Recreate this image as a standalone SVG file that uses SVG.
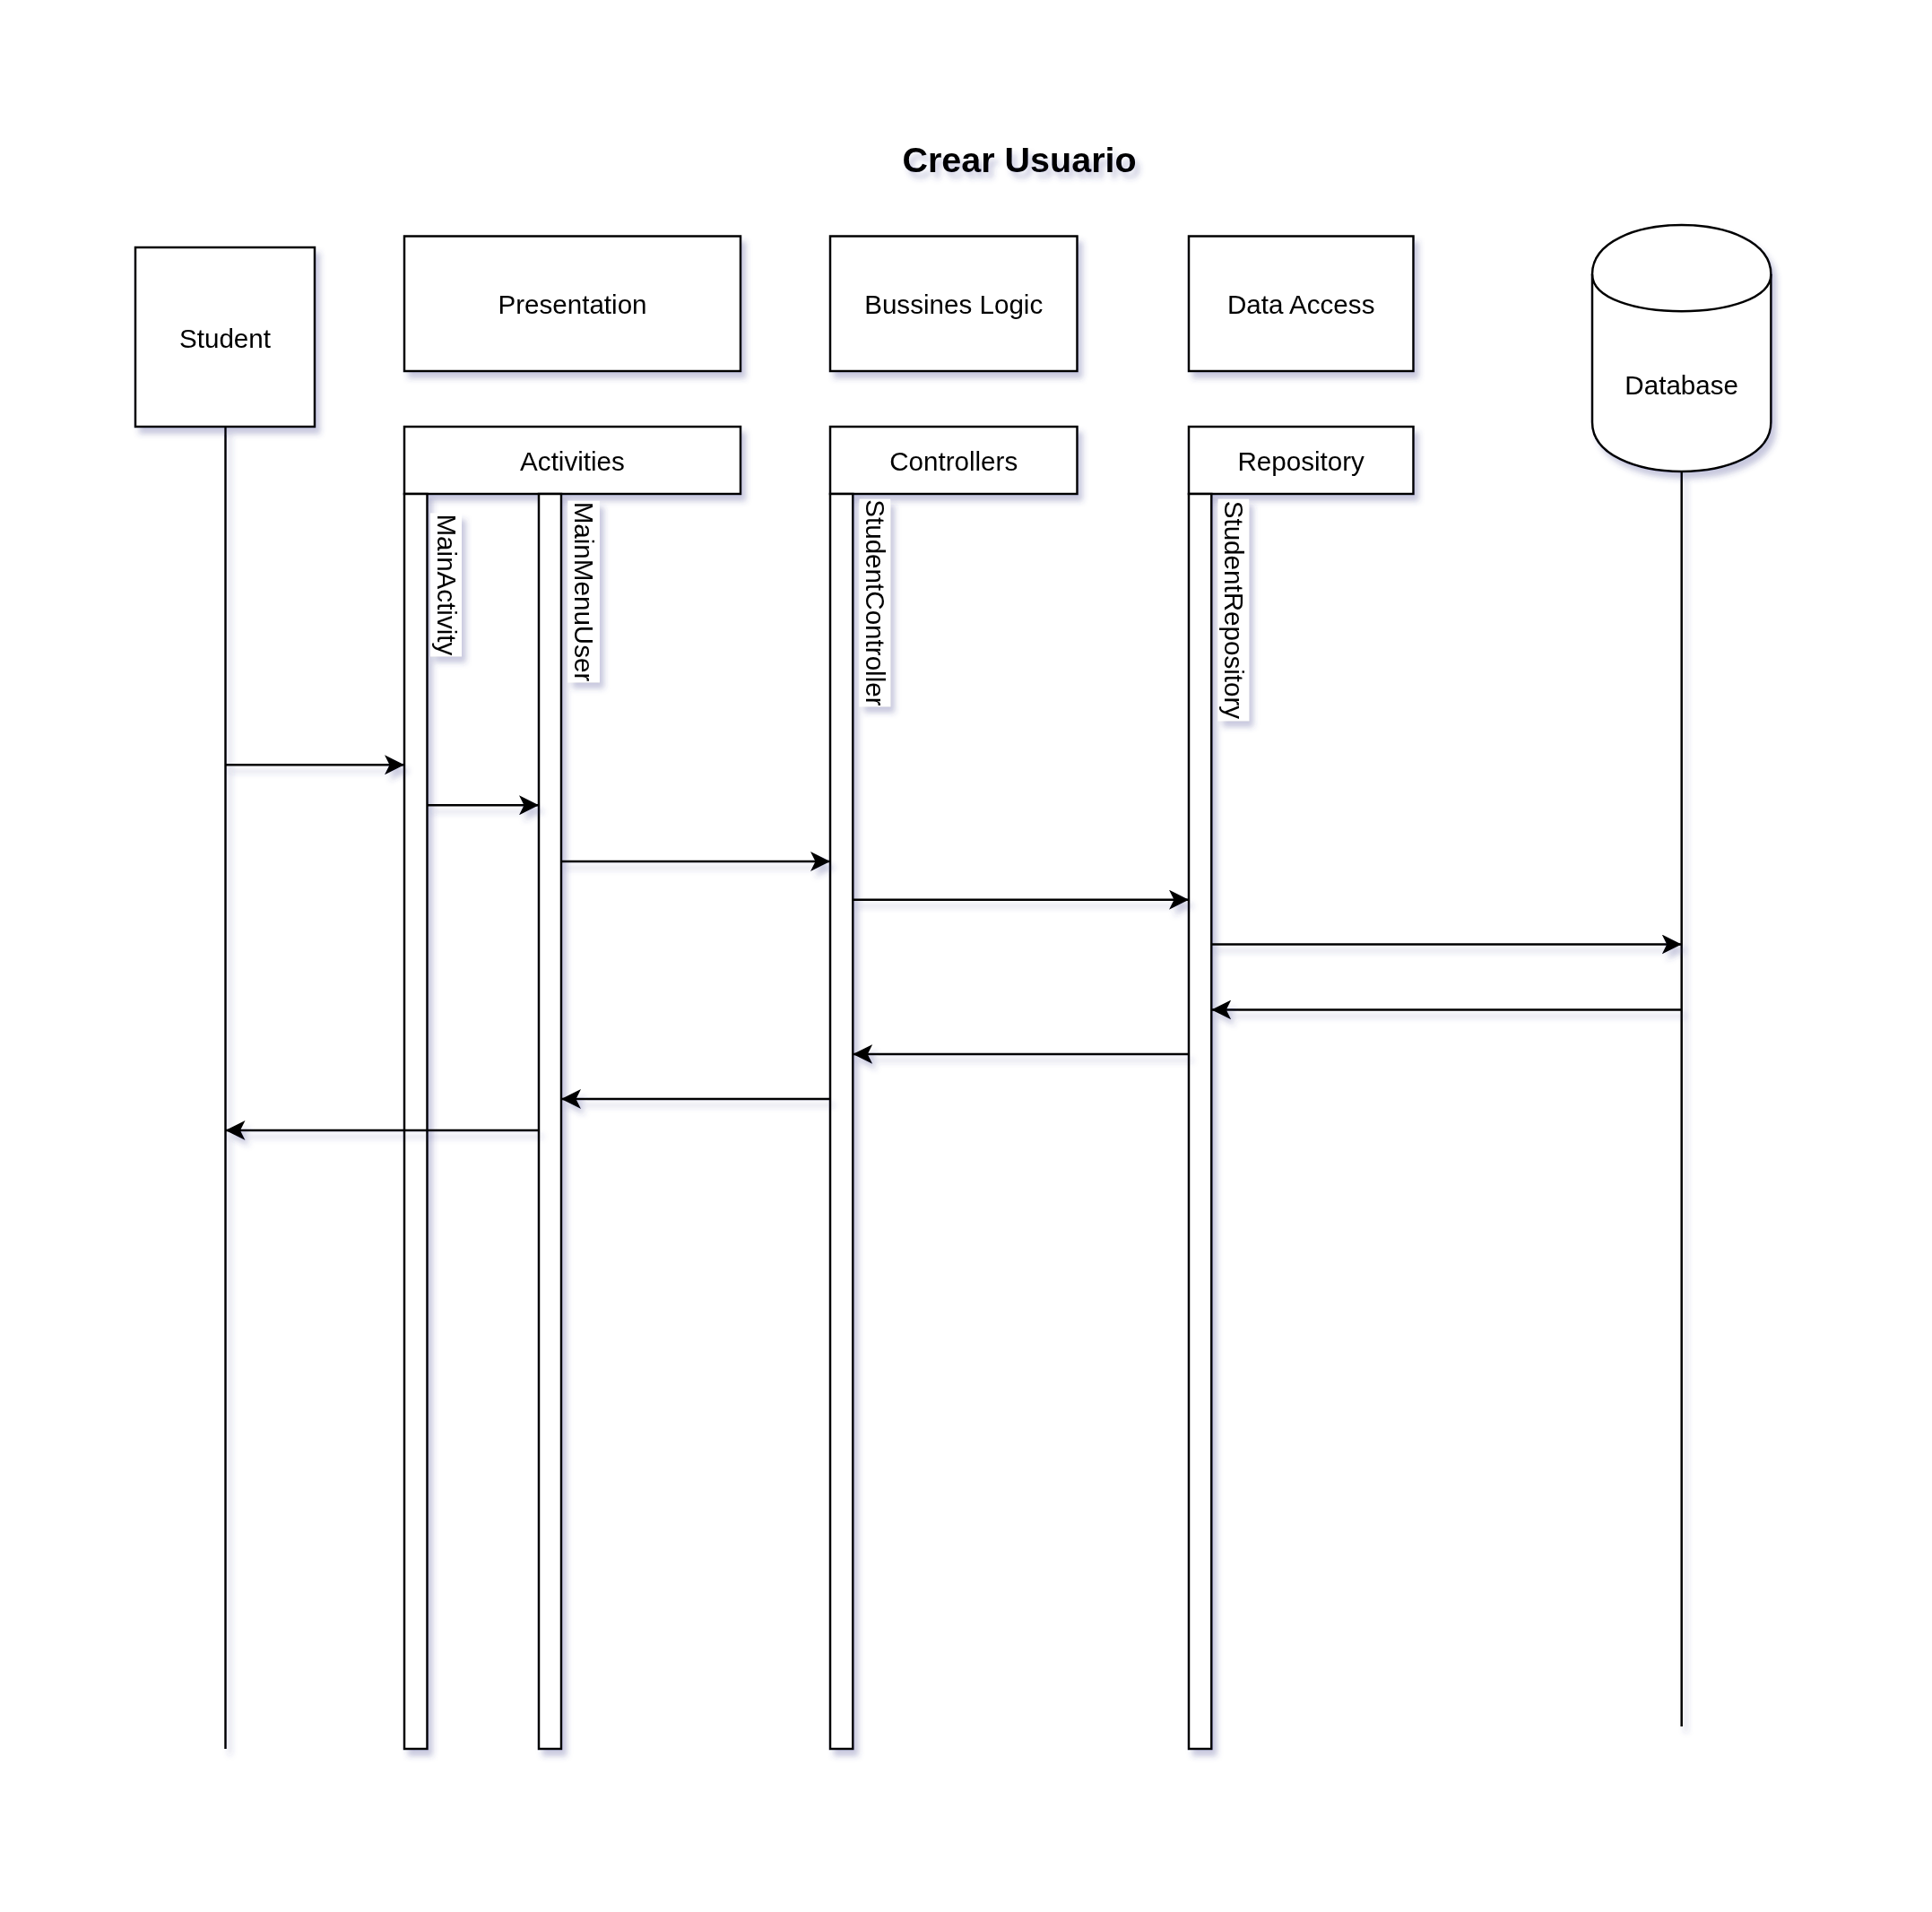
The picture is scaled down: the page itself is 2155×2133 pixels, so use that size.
<svg xmlns="http://www.w3.org/2000/svg" width="2155" height="2133" viewBox="0 0 2155 2133">
<defs>
<filter id="sh" x="-20%" y="-20%" width="140%" height="140%" filterUnits="objectBoundingBox">
<feGaussianBlur in="SourceAlpha" stdDeviation="3"/>
<feOffset dx="5" dy="7" result="b"/>
<feFlood flood-color="#3c3f8a" flood-opacity="0.28"/>
<feComposite in2="b" operator="in" result="s"/>
<feMerge><feMergeNode in="s"/><feMergeNode in="SourceGraphic"/></feMerge>
</filter>
<filter id="shl" x="-10" y="-10" width="2200" height="2200" filterUnits="userSpaceOnUse">
<feGaussianBlur in="SourceAlpha" stdDeviation="3"/>
<feOffset dx="5" dy="7" result="b"/>
<feFlood flood-color="#3c3f8a" flood-opacity="0.28"/>
<feComposite in2="b" operator="in" result="s"/>
<feMerge><feMergeNode in="s"/><feMergeNode in="SourceGraphic"/></feMerge>
</filter>
<marker id="arr" viewBox="0 0 22 22" refX="22" refY="11" markerWidth="22" markerHeight="22" markerUnits="userSpaceOnUse" orient="auto">
<path d="M22,11 L0,0 L5.5,11 L0,22 Z" fill="#000"/>
</marker>
</defs>
<style>
.box{fill:#fff;stroke:#000;stroke-width:2.47}
.life{fill:none;stroke:#000;stroke-width:2.47}
.lbl{font-family:"Liberation Sans",Arial,sans-serif;font-size:29.6px;fill:#000;text-anchor:middle}
.vbg{fill:#fff;stroke:none}
.msg{fill:none;stroke:#000;stroke-width:2.47;marker-end:url(#arr)}
.title{font-family:"Liberation Sans",Arial,sans-serif;font-size:39.5px;font-weight:bold;fill:#000;text-anchor:middle}
</style>
<rect width="2155" height="2133" fill="#fff"/>

<g id="title" filter="url(#shl)">
<text class="title" x="1137" y="192">Crear Usuario</text>
</g>

<g id="student" filter="url(#shl)">
<line class="life" x1="251.5" y1="476" x2="251.5" y2="1951"/>
<rect class="box" x="151" y="276" width="200" height="200"/>
<text class="lbl" x="251" y="388">Student</text>
</g>

<g id="presentation" filter="url(#shl)">
<rect class="box" x="451" y="263.5" width="375" height="150.5"/>
<text class="lbl" x="638.5" y="350">Presentation</text>
</g>

<g id="activities" filter="url(#shl)">
<rect class="box" x="451" y="476" width="375" height="75"/>
<text class="lbl" x="638.5" y="525">Activities</text>
</g>

<g id="mainActivity" filter="url(#shl)">
<rect class="box" x="451" y="551" width="25.5" height="1400"/>
<rect class="vbg" x="480" y="572.7" width="35" height="159.5"/>
<text class="lbl" transform="translate(487.5,652.4) rotate(90)">MainActivity</text>
</g>

<g id="mainMenuUser" filter="url(#shl)">
<rect class="box" x="601" y="551" width="25" height="1400"/>
<rect class="vbg" x="633.4" y="558.7" width="35.5" height="202.5"/>
<text class="lbl" transform="translate(640.7,660) rotate(90)">MainMenuUser</text>
</g>

<g id="bussinesLogic" filter="url(#shl)">
<rect class="box" x="926" y="263.5" width="275.5" height="150.5"/>
<text class="lbl" x="1063.7" y="350">Bussines Logic</text>
</g>

<g id="controllers" filter="url(#shl)">
<rect class="box" x="926" y="476" width="275.5" height="75"/>
<text class="lbl" x="1063.7" y="525">Controllers</text>
</g>

<g id="studentController" filter="url(#shl)">
<rect class="box" x="926" y="551" width="25.3" height="1400"/>
<rect class="vbg" x="958.7" y="556.7" width="34.5" height="231.5"/>
<text class="lbl" transform="translate(966,672.4) rotate(90)">StudentController</text>
</g>

<g id="dataAccess" filter="url(#shl)">
<rect class="box" x="1326" y="263.5" width="250.5" height="150.5"/>
<text class="lbl" x="1451.2" y="350">Data Access</text>
</g>

<g id="repository" filter="url(#shl)">
<rect class="box" x="1326" y="476" width="250.5" height="75"/>
<text class="lbl" x="1451.2" y="525">Repository</text>
</g>

<g id="studentRepository" filter="url(#shl)">
<rect class="box" x="1326" y="551" width="25.3" height="1400"/>
<rect class="vbg" x="1358.7" y="556.7" width="34.5" height="247.5"/>
<text class="lbl" transform="translate(1366,680.4) rotate(90)">StudentRepository</text>
</g>

<g id="database" filter="url(#shl)">
<line class="life" x1="1875.7" y1="526" x2="1875.7" y2="1926"/>
<path class="box" d="M1776,306 C1776,232.7 1975.4,232.7 1975.4,306 L1975.4,471 C1975.4,544.3 1776,544.3 1776,471 Z"/>
<path class="life" d="M1776,306 C1776,361 1975.4,361 1975.4,306"/>
<text class="lbl" x="1875.7" y="440">Database</text>
</g>

<g id="connectors" filter="url(#shl)">
<line class="msg" x1="251.5" y1="853.3" x2="451" y2="853.3"/>
<line class="msg" x1="476.5" y1="898.3" x2="601" y2="898.3"/>
<line class="msg" x1="626" y1="961" x2="926" y2="961"/>
<line class="msg" x1="951.3" y1="1003.7" x2="1326" y2="1003.7"/>
<line class="msg" x1="1351.3" y1="1053.5" x2="1875.7" y2="1053.5"/>
<line class="msg" x1="1875.7" y1="1126.5" x2="1351.3" y2="1126.5"/>
<line class="msg" x1="1326" y1="1176" x2="951.3" y2="1176"/>
<line class="msg" x1="926" y1="1226" x2="626" y2="1226"/>
<line class="msg" x1="601" y1="1261" x2="251.5" y2="1261"/>
</g>
</svg>
